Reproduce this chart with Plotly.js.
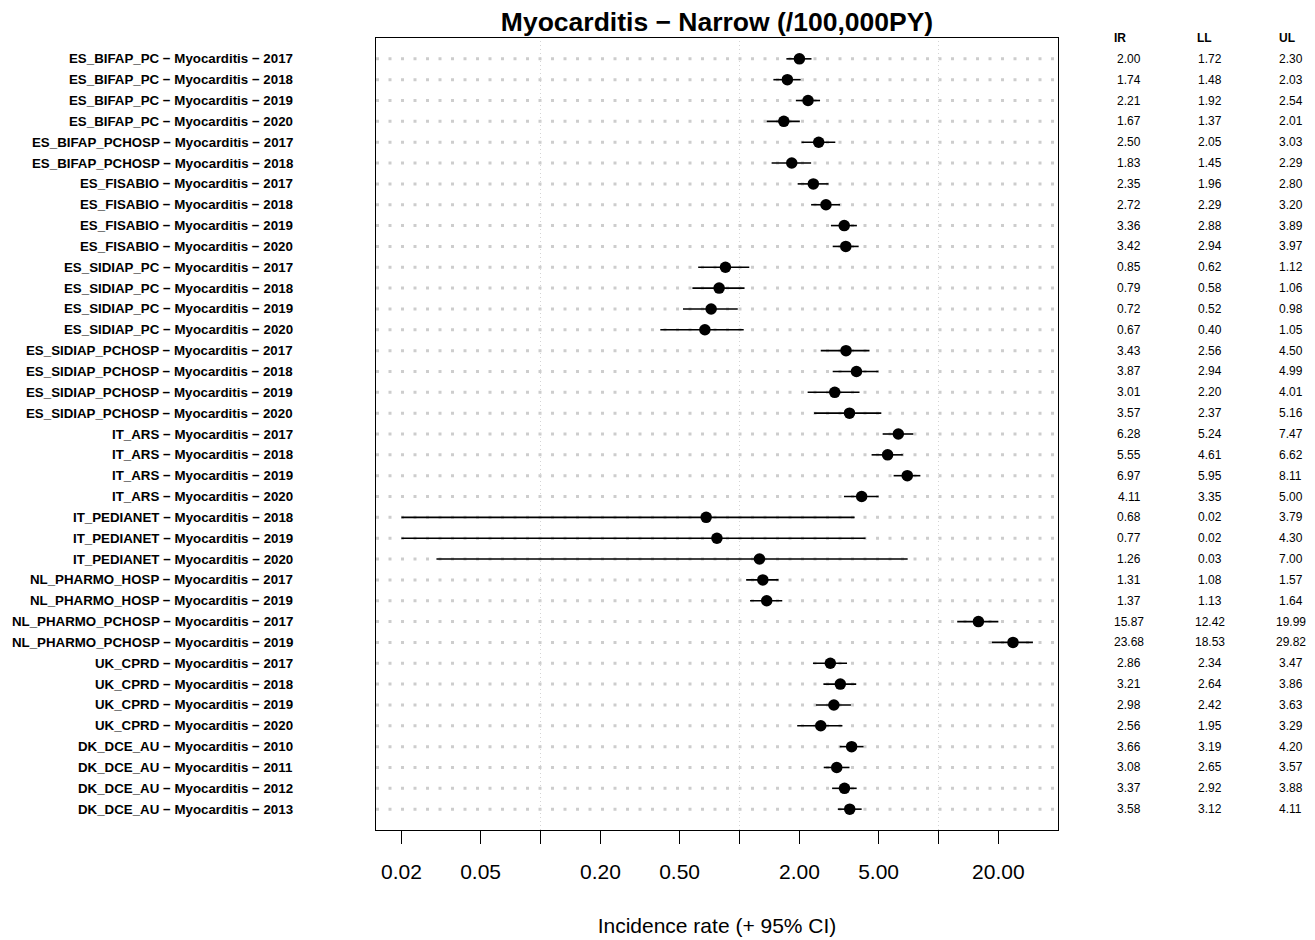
<!DOCTYPE html>
<html>
<head>
<meta charset="utf-8">
<script src="https://cdn.plot.ly/plotly-3.0.1.min.js"></script>
<style>html,body{margin:0;padding:0;background:#fff;}</style>
</head>
<body>
<div id="chart" style="width:1315px;height:940px;"></div>
<script>
// ---- data ----
const sources = [
  "ES_BIFAP_PC","ES_BIFAP_PC","ES_BIFAP_PC","ES_BIFAP_PC",
  "ES_BIFAP_PCHOSP","ES_BIFAP_PCHOSP",
  "ES_FISABIO","ES_FISABIO","ES_FISABIO","ES_FISABIO",
  "ES_SIDIAP_PC","ES_SIDIAP_PC","ES_SIDIAP_PC","ES_SIDIAP_PC",
  "ES_SIDIAP_PCHOSP","ES_SIDIAP_PCHOSP","ES_SIDIAP_PCHOSP","ES_SIDIAP_PCHOSP",
  "IT_ARS","IT_ARS","IT_ARS","IT_ARS",
  "IT_PEDIANET","IT_PEDIANET","IT_PEDIANET",
  "NL_PHARMO_HOSP","NL_PHARMO_HOSP",
  "NL_PHARMO_PCHOSP","NL_PHARMO_PCHOSP",
  "UK_CPRD","UK_CPRD","UK_CPRD","UK_CPRD",
  "DK_DCE_AU","DK_DCE_AU","DK_DCE_AU","DK_DCE_AU"
];
const outcome = "Myocarditis";
const years = [
  2017,2018,2019,2020,
  2017,2018,
  2017,2018,2019,2020,
  2017,2018,2019,2020,
  2017,2018,2019,2020,
  2017,2018,2019,2020,
  2018,2019,2020,
  2017,2019,
  2017,2019,
  2017,2018,2019,2020,
  2010,2011,2012,2013
];
const IR = [
  2.00,1.74,2.21,1.67,
  2.50,1.83,
  2.35,2.72,3.36,3.42,
  0.85,0.79,0.72,0.67,
  3.43,3.87,3.01,3.57,
  6.28,5.55,6.97,4.11,
  0.68,0.77,1.26,
  1.31,1.37,
  15.87,23.68,
  2.86,3.21,2.98,2.56,
  3.66,3.08,3.37,3.58
];
const LL = [
  1.72,1.48,1.92,1.37,
  2.05,1.45,
  1.96,2.29,2.88,2.94,
  0.62,0.58,0.52,0.40,
  2.56,2.94,2.20,2.37,
  5.24,4.61,5.95,3.35,
  0.02,0.02,0.03,
  1.08,1.13,
  12.42,18.53,
  2.34,2.64,2.42,1.95,
  3.19,2.65,2.92,3.12
];
const UL = [
  2.30,2.03,2.54,2.01,
  3.03,2.29,
  2.80,3.20,3.89,3.97,
  1.12,1.06,0.98,1.05,
  4.50,4.99,4.01,5.16,
  7.47,6.62,8.11,5.00,
  3.79,4.30,7.00,
  1.57,1.64,
  19.99,29.82,
  3.47,3.86,3.63,3.29,
  4.20,3.57,3.88,4.11
];
const tickVals = [0.02,0.05,0.1,0.2,0.5,1,2,5,10,20];
const tickText = ["0.02","0.05","","0.20","0.50","","2.00","5.00","","20.00"];
const gridVals = [0.1,1,10];
const tableHeaders = ["IR","LL","UL"];
const chartTitle = "Myocarditis \u2212 Narrow (/100,000PY)";
const xTitle = "Incidence rate (+ 95% CI)";

// ---- build ----
const n = IR.length;
const rows = IR.map((_, i) => i + 1);
const labels = sources.map((s, i) => s + " \u2212 " + outcome + " \u2212 " + years[i]);
const FONT = "Liberation Sans, Arial, Helvetica, sans-serif";

const trace = {
  type: "scatter",
  mode: "markers",
  x: IR,
  y: rows,
  marker: {color: "#000", size: 11.5, symbol: "circle"},
  error_x: {
    type: "data", symmetric: false,
    array: UL.map((u, i) => u - IR[i]),
    arrayminus: LL.map((l, i) => IR[i] - l),
    color: "#000", thickness: 1.6, width: 0
  },
  hoverinfo: "skip",
  showlegend: false
};

const shapes = [];
rows.forEach(r => shapes.push({
  type: "line", layer: "below", xref: "paper", yref: "y",
  x0: 0, x1: 1, y0: r, y1: r,
  line: {color: "#cdcdcd", width: 3, dash: "3px,9.5px"}
}));
gridVals.forEach(g => shapes.push({
  type: "line", layer: "below", xref: "x", yref: "paper",
  x0: g, x1: g, y0: 0, y1: 1,
  line: {color: "#d4d4d4", width: 1, dash: "1px,3px"}
}));

const annotations = [];
const labX = -0.119;
const colX = [1.1048, 1.2236, 1.341];
const headX = [1.0909, 1.2148, 1.3358];
labels.forEach((t, i) => annotations.push({
  xref: "paper", yref: "y", x: labX, y: rows[i], text: t,
  xanchor: "right", yanchor: "middle", showarrow: false,
  font: {family: FONT, size: 13.3, color: "#000", weight: "bold"}
}));
[IR, LL, UL].forEach((col, c) => {
  annotations.push({
    xref: "paper", yref: "y", x: headX[c], y: 0, text: "<b>" + tableHeaders[c] + "</b>",
    xanchor: "center", yanchor: "middle", showarrow: false,
    font: {family: FONT, size: 12, color: "#000"}
  });
  col.forEach((v, i) => annotations.push({
    xref: "paper", yref: "y", x: colX[c], y: rows[i], text: v.toFixed(2),
    xanchor: "center", yanchor: "middle", showarrow: false,
    font: {family: FONT, size: 12, color: "#000"}
  }));
});

const layout = {
  width: 1315, height: 940, autosize: false,
  margin: {l: 376, r: 257, t: 38, b: 110, pad: 0},
  paper_bgcolor: "#fff", plot_bgcolor: "#fff",
  font: {family: FONT, color: "#000"},
  title: {
    text: "<b>" + chartTitle + "</b>",
    font: {family: FONT, size: 26.5, color: "#000"},
    x: 0.5, xref: "paper", xanchor: "center",
    y: 1 - 22 / 940, yref: "container", yanchor: "middle"
  },
  xaxis: {
    type: "log",
    range: [-1.8266, 1.6005],
    tickvals: tickVals, ticktext: tickText,
    ticks: "outside", ticklen: 13, tickwidth: 1, tickcolor: "#000",
    ticklabelstandoff: 10,
    tickfont: {family: FONT, size: 21, color: "#000"},
    showgrid: false, zeroline: false,
    showline: true, mirror: true, linecolor: "#000", linewidth: 1,
    title: {text: xTitle, font: {family: FONT, size: 21, color: "#000"}, standoff: 36}
  },
  yaxis: {
    range: [n + 1, 0],
    showticklabels: false, ticks: "", showgrid: false, zeroline: false,
    showline: true, mirror: true, linecolor: "#000", linewidth: 1
  },
  shapes: shapes,
  annotations: annotations
};

Plotly.newPlot("chart", [trace], layout, {displayModeBar: false, staticPlot: true});
</script>
</body>
</html>
